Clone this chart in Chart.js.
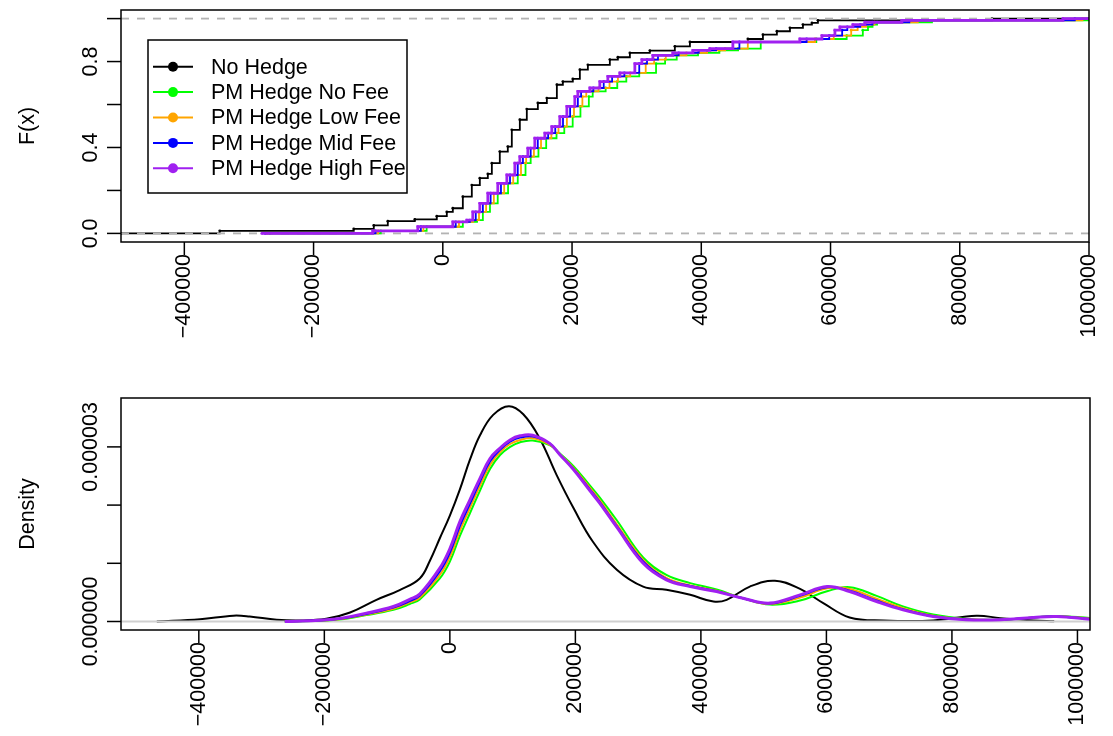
<!DOCTYPE html>
<html>
<head>
<meta charset="utf-8">
<script src="https://cdn.jsdelivr.net/npm/chart.js@4.4.0/dist/chart.umd.min.js"></script>
<style>
  html, body { margin: 0; padding: 0; background: #fff; }
  #wrap { position: relative; width: 1113px; height: 736px; }
  canvas { position: absolute; left: 0; }
</style>
</head>
<body>
<div id="wrap">
  <canvas id="ecdfChart" width="1113" height="368" style="top:0"></canvas>
  <canvas id="densityChart" width="1113" height="368" style="top:368px"></canvas>
</div>
<script>
// series
var seriesNames = ['No Hedge', 'PM Hedge No Fee', 'PM Hedge Low Fee', 'PM Hedge Mid Fee', 'PM Hedge High Fee'];
var seriesColors = ['#000000', '#00FF00', '#FFA500', '#0000FF', '#A020F0'];

// axis ticks
var xTicks = [-400000, -200000, 0, 200000, 400000, 600000, 800000, 1000000];
var xTickLabels = ['\u2212400000', '\u2212200000', '0', '200000', '400000', '600000', '800000', '1000000'];
var ecdfYTicks = [0, 0.2, 0.4, 0.6, 0.8, 1.0];
var ecdfYLabels = ['0.0', '', '0.4', '', '0.8', ''];
var densYTicks = [0, 1e-6, 2e-6, 3e-6];
var densYLabels = ['0.000000', '', '', '0.000003'];

// ECDF steps (x where the level starts, level)
var noHedgeStepX = [-498000, -345200, -137800, -106800, -85100, -43300, -9300, 6200, 15500, 31000, 44900, 57300, 69700, 75900, 88200, 100600, 106800, 119200, 130000, 147100, 161000, 176500, 185800, 201200, 212100, 224500, 258500, 270900, 289500, 320400, 359100, 382400, 472100, 495400, 517000, 537200, 557300, 571200, 580500, 849900];
var noHedgeStepF = [0, 0.012, 0.021, 0.037, 0.057, 0.065, 0.08, 0.10, 0.117, 0.171, 0.225, 0.257, 0.277, 0.327, 0.381, 0.404, 0.482, 0.529, 0.579, 0.607, 0.63, 0.692, 0.707, 0.719, 0.762, 0.785, 0.809, 0.82, 0.84, 0.851, 0.871, 0.891, 0.905, 0.925, 0.941, 0.957, 0.972, 0.98, 0.992, 1.0];

var hedgeStepF = [0, 0.012, 0.031, 0.054, 0.062, 0.10, 0.14, 0.187, 0.233, 0.272, 0.327, 0.357, 0.397, 0.443, 0.467, 0.497, 0.544, 0.591, 0.637, 0.661, 0.677, 0.707, 0.731, 0.747, 0.79, 0.809, 0.829, 0.84, 0.852, 0.86, 0.891, 0.905, 0.921, 0.946, 0.961, 0.972, 0.983, 0.992, 1.0];
var noFeeStepX = [-268000, -96000, -25000, 31000, 53000, 62000, 73000, 85000, 101000, 116000, 128000, 136000, 148000, 160000, 176000, 188000, 201000, 213000, 226000, 232000, 252000, 270000, 284000, 304000, 330000, 344000, 362000, 395000, 428000, 457000, 492000, 578000, 625000, 650000, 658000, 665000, 672000, 757000, 1010000];
var lowFeeStepX = [-272000, -100000, -30000, 25000, 47000, 56000, 67000, 79000, 95000, 109000, 121000, 129000, 141000, 152000, 168000, 179000, 192000, 203000, 216000, 222000, 241000, 258000, 271000, 290000, 314000, 327000, 345000, 377000, 409000, 437000, 472000, 576000, 605000, 632000, 642000, 655000, 668000, 735000, 990000];
var midFeeStepX = [-275000, -104000, -34000, 20000, 42000, 51000, 62000, 74000, 90000, 104000, 116000, 124000, 136000, 147000, 163000, 174000, 186000, 197000, 209000, 214000, 233000, 249000, 262000, 281000, 304000, 316000, 333000, 365000, 396000, 423000, 459000, 563000, 598000, 618000, 626000, 646000, 665000, 722000, 978000];
var highFeeStepX = [-280200, -108400, -38700, 15500, 37200, 46400, 57300, 69700, 85100, 99100, 111500, 119200, 131600, 142400, 157900, 168700, 181100, 192000, 204300, 209000, 227600, 243000, 255400, 274000, 297200, 308100, 325100, 356000, 387000, 413300, 448900, 552600, 586700, 606800, 614600, 634700, 653300, 710500, 959800];

// densities
var noHedgeDensX = [-467000, -398000, -345000, -319000, -276000, -239000, -197000, -159000, -117000, -80000, -48000, -32000, -16000, 0, 16000, 32000, 48000, 69000, 94000, 117000, 143000, 170000, 197000, 228000, 266000, 308000, 345000, 383000, 420000, 441000, 478000, 518000, 558000, 595000, 637000, 691000, 770000, 839000, 877000, 930000, 963000];
var noHedgeDens = [0, 0.04e-6, 0.10e-6, 0.086e-6, 0.03e-6, 0.017e-6, 0.046e-6, 0.154e-6, 0.372e-6, 0.54e-6, 0.74e-6, 1.04e-6, 1.43e-6, 1.82e-6, 2.27e-6, 2.78e-6, 3.20e-6, 3.55e-6, 3.70e-6, 3.56e-6, 3.15e-6, 2.52e-6, 1.95e-6, 1.37e-6, 0.89e-6, 0.60e-6, 0.544e-6, 0.458e-6, 0.343e-6, 0.372e-6, 0.60e-6, 0.70e-6, 0.56e-6, 0.316e-6, 0.07e-6, 0.017e-6, 0.017e-6, 0.10e-6, 0.058e-6, 0.017e-6, 0.003e-6];

var hedgeDensX = [-263000, -186000, -133000, -90000, -64000, -48000, -16000, 0, 16000, 32000, 48000, 64000, 80000, 96000, 112000, 132000, 159000, 175000, 197000, 223000, 239000, 266000, 308000, 345000, 383000, 425000, 467000, 510000, 558000, 601000, 637000, 680000, 722000, 770000, 823000, 877000, 930000, 967000, 1020000];
var noFeeDens = [0, 0.025e-6, 0.11e-6, 0.20e-6, 0.30e-6, 0.38e-6, 0.74e-6, 1.03e-6, 1.47e-6, 1.86e-6, 2.25e-6, 2.62e-6, 2.86e-6, 3.00e-6, 3.08e-6, 3.11e-6, 3.03e-6, 2.89e-6, 2.67e-6, 2.34e-6, 2.13e-6, 1.74e-6, 1.10e-6, 0.80e-6, 0.66e-6, 0.55e-6, 0.40e-6, 0.29e-6, 0.36e-6, 0.52e-6, 0.59e-6, 0.44e-6, 0.26e-6, 0.12e-6, 0.045e-6, 0.03e-6, 0.07e-6, 0.095e-6, 0.06e-6];
var lowFeeDens = [0, 0.03e-6, 0.12e-6, 0.22e-6, 0.33e-6, 0.41e-6, 0.80e-6, 1.11e-6, 1.56e-6, 1.95e-6, 2.33e-6, 2.69e-6, 2.91e-6, 3.05e-6, 3.12e-6, 3.15e-6, 3.04e-6, 2.88e-6, 2.64e-6, 2.30e-6, 2.08e-6, 1.67e-6, 1.06e-6, 0.75e-6, 0.62e-6, 0.53e-6, 0.40e-6, 0.30e-6, 0.41e-6, 0.57e-6, 0.56e-6, 0.39e-6, 0.23e-6, 0.10e-6, 0.04e-6, 0.03e-6, 0.07e-6, 0.09e-6, 0.05e-6];
var midFeeDens = [0, 0.035e-6, 0.13e-6, 0.24e-6, 0.35e-6, 0.44e-6, 0.86e-6, 1.18e-6, 1.64e-6, 2.02e-6, 2.40e-6, 2.75e-6, 2.95e-6, 3.09e-6, 3.16e-6, 3.18e-6, 3.06e-6, 2.87e-6, 2.62e-6, 2.27e-6, 2.05e-6, 1.64e-6, 1.03e-6, 0.73e-6, 0.61e-6, 0.52e-6, 0.40e-6, 0.31e-6, 0.44e-6, 0.59e-6, 0.53e-6, 0.36e-6, 0.21e-6, 0.09e-6, 0.035e-6, 0.03e-6, 0.07e-6, 0.088e-6, 0.045e-6];
var highFeeDens = [0, 0.04e-6, 0.144e-6, 0.257e-6, 0.38e-6, 0.47e-6, 0.916e-6, 1.25e-6, 1.715e-6, 2.09e-6, 2.46e-6, 2.80e-6, 2.98e-6, 3.12e-6, 3.19e-6, 3.20e-6, 3.06e-6, 2.87e-6, 2.61e-6, 2.25e-6, 2.03e-6, 1.62e-6, 1.0e-6, 0.715e-6, 0.60e-6, 0.515e-6, 0.40e-6, 0.316e-6, 0.458e-6, 0.60e-6, 0.515e-6, 0.343e-6, 0.20e-6, 0.086e-6, 0.03e-6, 0.03e-6, 0.07e-6, 0.086e-6, 0.04e-6];

var ecdfXRange = [-498000, 1000000];
var ecdfYRange = [-0.04, 1.04];
var densXRange = [-524000, 1020000];
var densYRange = [-0.146e-6, 3.84e-6];

var FONT = '21.5px "Liberation Sans", Arial, Helvetica, sans-serif';

function stepPoints(xs, fs, xMax) {
    var pts = xs.map(function(x, i) { return {x: x, y: fs[i]}; });
    pts.push({x: Math.max(xMax, xs[xs.length - 1]), y: fs[fs.length - 1]});
    return pts;
}

function curvePoints(xs, ys) {
    return xs.map(function(x, i) { return {x: x, y: ys[i]}; });
}

// R style box, ticks and labels
var rAxesPlugin = {
    id: 'rAxes',
    afterDraw: function(chart, args, opts) {
        var ctx = chart.ctx, area = chart.chartArea;
        var xs = chart.scales.x, ys = chart.scales.y;
        ctx.save();
        ctx.strokeStyle = '#000';
        ctx.fillStyle = '#000';
        ctx.lineWidth = 1.5;
        ctx.strokeRect(area.left, area.top, area.right - area.left, area.bottom - area.top);
        ctx.font = FONT;

        opts.xTicks.forEach(function(v, i) {
            var px = xs.getPixelForValue(v);
            ctx.beginPath();
            ctx.moveTo(px, area.bottom);
            ctx.lineTo(px, area.bottom + 13);
            ctx.stroke();
            ctx.save();
            ctx.translate(px, area.bottom + 12);
            ctx.rotate(-Math.PI / 2);
            ctx.textAlign = 'right';
            ctx.textBaseline = 'middle';
            ctx.fillText(opts.xLabels[i], 0, 0);
            ctx.restore();
        });

        opts.yTicks.forEach(function(v, i) {
            var py = ys.getPixelForValue(v);
            ctx.beginPath();
            ctx.moveTo(area.left, py);
            ctx.lineTo(area.left - 14, py);
            ctx.stroke();
            if (opts.yLabels[i]) {
                ctx.save();
                ctx.translate(area.left - 24, py);
                ctx.rotate(-Math.PI / 2);
                ctx.textAlign = 'center';
                ctx.textBaseline = 'alphabetic';
                ctx.fillText(opts.yLabels[i], 0, 0);
                ctx.restore();
            }
        });

        ctx.save();
        ctx.translate(34, (area.top + area.bottom) / 2);
        ctx.rotate(-Math.PI / 2);
        ctx.textAlign = 'center';
        ctx.textBaseline = 'alphabetic';
        ctx.fillText(opts.yTitle, 0, 0);
        ctx.restore();
        ctx.restore();
    }
};

var rLegendPlugin = {
    id: 'rLegend',
    afterDraw: function(chart, args, opts) {
        if (!opts.show) return;
        var ctx = chart.ctx;
        ctx.save();
        ctx.fillStyle = '#fff';
        ctx.fillRect(148, 40, 259, 153);
        ctx.strokeStyle = '#000';
        ctx.lineWidth = 1.5;
        ctx.strokeRect(148, 40, 259, 153);
        ctx.font = FONT;
        ctx.textAlign = 'left';
        ctx.textBaseline = 'middle';
        seriesNames.forEach(function(name, i) {
            var y = 66.7 + i * 25.4;
            ctx.strokeStyle = seriesColors[i];
            ctx.lineWidth = 2;
            ctx.beginPath();
            ctx.moveTo(153, y);
            ctx.lineTo(193, y);
            ctx.stroke();
            ctx.fillStyle = seriesColors[i];
            ctx.beginPath();
            ctx.arc(173, y, 5, 0, Math.PI * 2);
            ctx.fill();
            ctx.fillStyle = '#000';
            ctx.fillText(name, 211, y + 1);
        });
        ctx.restore();
    }
};

function baseOptions(xRange, yRange, padding, axes, legend) {
    return {
        responsive: false,
        animation: false,
        devicePixelRatio: 1,
        events: [],
        layout: { padding: padding },
        scales: {
            x: { type: 'linear', min: xRange[0], max: xRange[1], display: false },
            y: { type: 'linear', min: yRange[0], max: yRange[1], display: false }
        },
        plugins: {
            legend: { display: false },
            tooltip: { enabled: false },
            rAxes: axes,
            rLegend: { show: legend }
        }
    };
}

// ECDF panel
var knotRadius = function(n) {
    return function(c) { return c.dataIndex < n ? 1.4 : 0; };
};

function ecdfSet(xs, fs, color, width, order) {
    return {
        data: stepPoints(xs, fs, ecdfXRange[1]),
        stepped: true,
        borderColor: color,
        backgroundColor: color,
        borderWidth: width,
        pointRadius: knotRadius(xs.length),
        pointBorderWidth: 0,
        fill: false,
        order: order
    };
}

function refLine(y, xRange, color, dash, order) {
    return {
        data: [{x: xRange[0], y: y}, {x: xRange[1], y: y}],
        borderColor: color,
        borderWidth: 1.8,
        borderDash: dash,
        pointRadius: 0,
        fill: false,
        order: order
    };
}

new Chart(document.getElementById('ecdfChart'), {
    type: 'line',
    data: {
        datasets: [
            ecdfSet(noHedgeStepX, noHedgeStepF, seriesColors[0], 1.8, 7),
            refLine(0, ecdfXRange, '#B3B3B3', [8, 8], 6),
            refLine(1, ecdfXRange, '#B3B3B3', [8, 8], 5),
            ecdfSet(noFeeStepX, hedgeStepF, seriesColors[1], 1.8, 4),
            ecdfSet(lowFeeStepX, hedgeStepF, seriesColors[2], 1.8, 3),
            ecdfSet(midFeeStepX, hedgeStepF, seriesColors[3], 1.8, 2),
            ecdfSet(highFeeStepX, hedgeStepF, seriesColors[4], 2.8, 1)
        ]
    },
    options: baseOptions(ecdfXRange, ecdfYRange, {left: 121, right: 24, top: 10, bottom: 126},
        {xTicks: xTicks, xLabels: xTickLabels, yTicks: ecdfYTicks, yLabels: ecdfYLabels, yTitle: 'F(x)'}, true),
    plugins: [rAxesPlugin, rLegendPlugin]
});

// density panel
function densSet(xs, ys, color, width, order) {
    return {
        data: curvePoints(xs, ys),
        borderColor: color,
        borderWidth: width,
        pointRadius: 0,
        tension: 0.4,
        fill: false,
        order: order
    };
}

new Chart(document.getElementById('densityChart'), {
    type: 'line',
    data: {
        datasets: [
            densSet(noHedgeDensX, noHedgeDens, seriesColors[0], 2, 6),
            refLine(0, densXRange, '#D0D0D0', [], 5),
            densSet(hedgeDensX, noFeeDens, seriesColors[1], 2, 4),
            densSet(hedgeDensX, lowFeeDens, seriesColors[2], 2, 3),
            densSet(hedgeDensX, midFeeDens, seriesColors[3], 2, 2),
            densSet(hedgeDensX, highFeeDens, seriesColors[4], 3, 1)
        ]
    },
    options: baseOptions(densXRange, densYRange, {left: 121, right: 23, top: 30, bottom: 106},
        {xTicks: xTicks, xLabels: xTickLabels, yTicks: densYTicks, yLabels: densYLabels, yTitle: 'Density'}, false),
    plugins: [rAxesPlugin, rLegendPlugin]
});
</script>
</body>
</html>
